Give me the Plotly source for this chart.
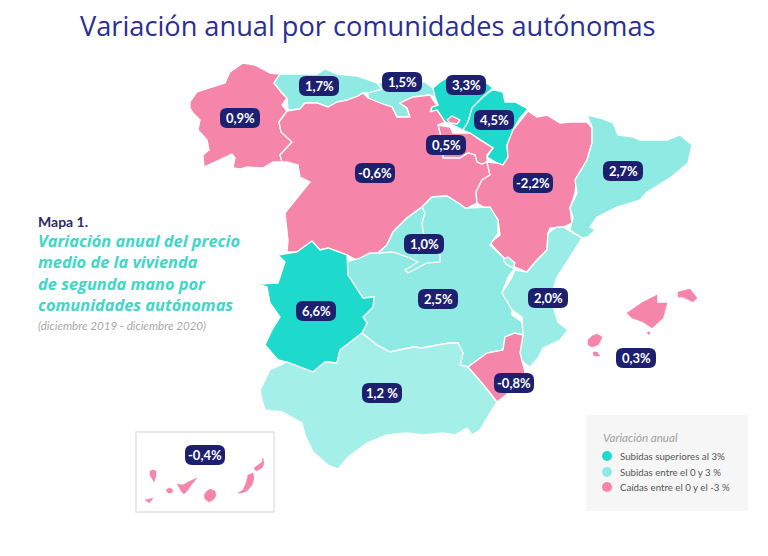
import plotly.graph_objects as go

# region names, value labels and where the label sits (outlines, in px)
regions = ["Galicia", "Asturias", "Cantabria", "País Vasco", "Navarra", "La Rioja", "Castilla y León",
           "Aragón", "Cataluña", "Castilla-La Mancha", "Madrid", "Extremadura", "Andalucía",
           "C. Valenciana", "Murcia", "Baleares", "Canarias"]
values = [0.9, 1.7, 1.5, 3.3, 4.5, 0.5, -0.6, -2.2, 2.7, 2.5, 1.0, 6.6, 1.2, 2.0, -0.8, 0.3, -0.4]
labels = ["0,9%", "1,7%", "1,5%", "3,3%", "4,5%", "0,5%", "-0,6%", "-2,2%", "2,7%", "2,5%", "1,0%",
          "6,6%", "1,2 %", "2,0%", "-0,8%", "0,3%", "-0,4%"]
label_x = [240, 319, 402, 466, 494, 446, 375, 533, 623, 438, 424, 316, 382, 548, 514, 636, 205]
label_y = [118, 86, 82, 85, 120, 145, 173, 183, 171, 299, 244, 311, 393, 298, 383, 358, 455]

galicia = [(190, 102), (197, 92), (225, 83), (230, 72), (243, 63), (255, 65), (270, 73), (280, 74), (274, 83),
           (282, 93), (287, 98), (282, 105), (287, 111), (279, 122), (281, 132), (292, 142), (280, 155), (282, 162),
           (273, 162), (263, 168), (247, 167), (240, 169), (233, 168), (235, 158), (232, 154), (204, 167), (203, 155),
           (209, 150), (207, 140), (198, 130), (200, 120), (193, 113), (190, 108)]
asturias = [(280, 74), (317, 74), (325, 69), (337, 74), (357, 76), (377, 83), (382, 89), (368, 93), (363, 93),
            (358, 96), (347, 100), (337, 102), (328, 107), (317, 103), (305, 103), (300, 109), (288, 110), (287, 98),
            (282, 93), (274, 83)]
cantabria = [(378, 83), (400, 80), (425, 82), (433, 88), (435, 97), (430, 95), (413, 97), (400, 103), (407, 108),
             (410, 117), (397, 117), (392, 107), (380, 103), (368, 98), (368, 93), (382, 89)]
pais_vasco = [(433, 88), (440, 82), (447, 78), (480, 78), (493, 88), (483, 97), (472, 108), (468, 122), (463, 130),
              (453, 125), (445, 122), (437, 110), (430, 112), (432, 107), (438, 105), (435, 97)]
trevino = [(447, 120), (452, 116), (460, 120), (457, 124), (450, 123)]
navarra = [(495, 90), (503, 92), (505, 102), (515, 102), (528, 109), (520, 118), (513, 130), (507, 145), (508, 157),
           (503, 165), (497, 163), (487, 157), (493, 148), (480, 140), (470, 133), (463, 130), (468, 122), (472, 108),
           (483, 97), (492, 90)]
rioja = [(438, 125), (450, 127), (453, 133), (470, 133), (480, 140), (493, 148), (487, 155), (487, 162), (482, 164),
         (477, 162), (475, 155), (468, 153), (460, 158), (443, 158), (443, 153), (440, 133)]
castilla_leon = [(287, 111), (300, 109), (305, 103), (317, 103), (328, 107), (337, 102), (347, 100), (358, 96),
                 (363, 93), (368, 98), (380, 103), (392, 107), (397, 117), (410, 117), (407, 108), (400, 103),
                 (413, 97), (430, 95), (435, 103), (438, 105), (432, 107), (430, 112), (437, 110), (445, 122),
                 (438, 125), (440, 133), (443, 153), (443, 158), (460, 158), (468, 153), (475, 155), (477, 162),
                 (482, 164), (487, 162), (490, 175), (482, 180), (476, 192), (477, 203), (463, 210), (457, 203),
                 (447, 196), (432, 197), (422, 207), (407, 218), (393, 232), (387, 245), (378, 253), (363, 258),
                 (357, 260), (347, 255), (328, 248), (320, 250), (312, 241), (297, 252), (287, 252), (288, 240),
                 (285, 213), (293, 203), (310, 182), (300, 177), (298, 165), (287, 162), (282, 162), (280, 155),
                 (292, 142), (281, 132), (279, 122)]
aragon = [(528, 111), (537, 117), (547, 115), (560, 123), (570, 122), (587, 122), (592, 128), (592, 143), (587, 160),
          (577, 177), (575, 193), (570, 208), (572, 223), (563, 227), (550, 228), (548, 233), (547, 250), (537, 260),
          (527, 272), (515, 267), (503, 257), (490, 243), (500, 235), (498, 220), (488, 210), (477, 203), (476, 192),
          (482, 180), (490, 175), (487, 162), (497, 163), (503, 165), (508, 157), (507, 145), (513, 130)]
cataluna = [(587, 115), (600, 118), (613, 123), (618, 135), (633, 137), (640, 140), (657, 140), (667, 140), (680, 135),
            (692, 145), (688, 163), (670, 178), (647, 192), (640, 200), (617, 207), (597, 217), (590, 227), (595, 230),
            (588, 237), (582, 238), (570, 230), (573, 217), (570, 208), (577, 193), (575, 180), (587, 160), (592, 143),
            (592, 127)]
castilla_mancha = [(422, 207), (432, 197), (447, 196), (460, 204), (465, 208), (480, 207), (490, 207), (498, 220),
                   (498, 233), (490, 245), (503, 257), (508, 265), (515, 268), (508, 277), (502, 293), (512, 307),
                   (512, 315), (522, 322), (523, 335), (515, 333), (505, 337), (503, 350), (487, 353), (468, 367),
                   (460, 365), (463, 353), (458, 343), (450, 343), (437, 345), (422, 348), (413, 347), (390, 352),
                   (377, 345), (362, 333), (367, 323), (363, 317), (373, 307), (374, 297), (363, 298), (353, 283),
                   (348, 275), (347, 262), (360, 258), (370, 253), (378, 253), (387, 245), (393, 232), (407, 218)]
madrid = [(422, 207), (407, 218), (393, 232), (387, 245), (378, 253), (393, 252), (410, 258), (418, 262), (405, 270),
          (408, 273), (427, 263), (440, 262), (440, 255), (430, 245), (423, 232), (422, 223), (425, 213)]
extremadura = [(278, 255), (297, 252), (312, 241), (320, 250), (328, 248), (347, 255), (348, 275), (353, 283),
               (363, 298), (374, 297), (373, 307), (363, 317), (367, 323), (362, 333), (340, 350), (337, 363),
               (325, 362), (313, 372), (300, 367), (287, 362), (278, 360), (265, 345), (272, 330), (280, 317),
               (270, 303), (267, 287), (258, 284), (278, 283), (285, 262)]
andalucia = [(260, 390), (270, 370), (287, 362), (300, 367), (313, 372), (325, 362), (337, 363), (340, 350), (362, 333),
             (377, 345), (390, 352), (413, 347), (422, 348), (437, 345), (450, 343), (458, 343), (463, 353), (460, 365),
             (468, 367), (482, 383), (490, 393), (497, 402), (490, 413), (480, 430), (472, 435), (467, 428), (455, 435),
             (443, 433), (423, 435), (407, 433), (387, 435), (367, 443), (348, 457), (338, 469), (328, 465), (313, 452),
             (305, 435), (302, 423), (282, 412), (265, 410), (262, 400)]
valencia = [(548, 233), (557, 227), (563, 227), (582, 238), (570, 257), (557, 277), (552, 293), (552, 303), (558, 322),
            (568, 330), (560, 340), (543, 348), (538, 358), (530, 367), (523, 362), (518, 355), (522, 340), (523, 335),
            (522, 317), (512, 310), (502, 293), (512, 277), (515, 270), (527, 272), (537, 260), (547, 250)]
ademuz = [(503, 260), (508, 257), (515, 263), (513, 268), (506, 264)]
murcia = [(468, 367), (487, 353), (503, 350), (505, 337), (515, 333), (523, 335), (520, 353), (525, 372), (515, 388),
          (503, 397), (497, 402), (490, 393), (482, 383)]
mallorca = [(627, 313), (643, 302), (657, 295), (657, 303), (667, 303), (663, 318), (652, 328), (643, 322), (632, 318)]
menorca = [(678, 292), (690, 289), (697, 298), (693, 302), (683, 297), (678, 297)]
cabrera = [(647, 332), (650, 332), (649, 335)]
ibiza = [(588, 340), (592, 336), (597, 334), (602, 337), (600, 342), (598, 345), (592, 347), (588, 345)]
formentera = [(593, 352), (597, 352), (600, 356), (594, 356)]
la_palma = [(150, 471), (153, 470), (156, 471), (156, 476), (154, 482), (152, 479), (150, 475)]
el_hierro = [(145, 500), (149, 499), (153, 498), (151, 501), (149, 503), (147, 501)]
la_gomera = [(166, 490), (169, 488), (172, 489), (173, 491), (171, 493), (168, 493)]
tenerife = [(177, 484), (183, 485), (188, 482), (197, 478), (192, 484), (188, 490), (184, 494), (181, 491), (179, 487)]
gran_canaria = [(204, 495), (207, 491), (210, 489), (215, 491), (216, 496), (213, 500), (209, 502), (205, 499)]
fuerteventura = [(238, 493), (243, 490), (246, 483), (248, 475), (253, 473), (254, 478), (252, 485), (247, 491), (242, 493)]
lanzarote = [(254, 468), (258, 465), (262, 462), (263, 458), (264, 464), (262, 468), (256, 471)]

legend_names = ["Subidas superiores al 3%", "Subidas entre el 0 y 3 %", "Caídas entre el 0 y el -3 %"]

PINK = "#F585A9"
TEAL = "#1EDACC"
MINT = "#8EEAE2"
NAVY = "#1D1F6F"

outlines = {
    "Galicia": [galicia], "Asturias": [asturias], "Cantabria": [cantabria], "País Vasco": [pais_vasco],
    "Navarra": [navarra], "La Rioja": [rioja, trevino], "Castilla y León": [castilla_leon], "Aragón": [aragon],
    "Cataluña": [cataluna], "Castilla-La Mancha": [castilla_mancha], "Madrid": [madrid],
    "Extremadura": [extremadura], "Andalucía": [andalucia], "C. Valenciana": [valencia, ademuz], "Murcia": [murcia],
    "Baleares": [mallorca, menorca, cabrera, ibiza, formentera],
    "Canarias": [la_palma, el_hierro, la_gomera, tenerife, gran_canaria, fuerteventura, lanzarote],
}
# some regions are a slightly different shade in the original
shades = {"Andalucía": "#A5EFE9", "C. Valenciana": "#9AEDE6", "Baleares": PINK, "Canarias": PINK}


def region_color(name, value):
    if name in shades:
        return shades[name]
    if value > 3:
        return TEAL
    if value > 0 and name != "Galicia" and name != "La Rioja":
        return MINT
    return PINK


def rounded_box(x0, y0, x1, y1, r):
    return (f"M {x0 + r} {y0} L {x1 - r} {y0} Q {x1} {y0} {x1} {y0 + r} L {x1} {y1 - r} Q {x1} {y1} {x1 - r} {y1} "
            f"L {x0 + r} {y1} Q {x0} {y1} {x0} {y1 - r} L {x0} {y0 + r} Q {x0} {y0} {x0 + r} {y0} Z")


fig = go.Figure()

for name, value in zip(regions, values):
    for part in outlines[name]:
        xs = [p[0] for p in part] + [part[0][0]]
        ys = [p[1] for p in part] + [part[0][1]]
        islands = name in ("Baleares", "Canarias")
        fig.add_trace(go.Scatter(x=xs, y=ys, mode="lines", fill="toself", fillcolor=region_color(name, value),
                                 line=dict(color=region_color(name, value) if islands else "white",
                                           width=0.5 if islands else 1.3),
                                 hoverinfo="text", text=name, showlegend=False))

# legend dots
fig.add_trace(go.Scatter(x=[607, 607, 607], y=[456, 472, 487], mode="markers",
                         marker=dict(size=10, color=[TEAL, MINT, PINK]), hoverinfo="skip", showlegend=False))

shapes = [
    dict(type="rect", x0=136, y0=432, x1=274, y1=512, line=dict(color="#E4E4E4", width=1.5), layer="below"),
    dict(type="rect", x0=586, y0=415, x1=748, y1=511, fillcolor="#F6F6F6", line=dict(width=0), layer="below"),
]
for x, y in zip(label_x, label_y):
    shapes.append(dict(type="path", path=rounded_box(x - 20, y - 10, x + 20, y + 10, 7), fillcolor=NAVY,
                       line=dict(width=0), layer="above"))

annotations = []
for x, y, t in zip(label_x, label_y, labels):
    annotations.append(dict(x=x, y=y, text=f"<b>{t}</b>", showarrow=False,
                            font=dict(family="Lato", size=13, color="white")))


def add_text(x, y, text, size, color, family="Lato", anchor="left"):
    annotations.append(dict(x=x, y=y, text=text, showarrow=False, xanchor=anchor, yanchor="middle", align="left",
                            font=dict(family=family, size=size, color=color)))


add_text(368, 25, "Variación anual por comunidades autónomas", 27.2, "#2B2F95", "Open Sans", "center")
add_text(36, 221, "<b>Mapa 1.</b>", 14, "#2C2A66")
subtitle_lines = ["Variación anual del precio", "medio de la vivienda", "de segunda mano por", "comunidades autónomas"]
add_text(36, 272.5, "<br>".join(f"<b><i>{line}</i></b>" for line in subtitle_lines), 16.4, "#41D6C8", "Open Sans")
add_text(36, 325, "<i>(diciembre 2019 - diciembre 2020)</i>", 11.6, "#A8A8A8")
add_text(601, 437, "<i>Variación anual</i>", 11.6, "#A0A0A0")
for y, name in zip([456, 472, 487], legend_names):
    add_text(618, y, name, 9.7, "#555555")

fig.update_layout(
    width=768, height=556, margin=dict(l=0, r=0, t=0, b=0), paper_bgcolor="white", plot_bgcolor="white",
    xaxis=dict(range=[0, 768], visible=False, fixedrange=True),
    yaxis=dict(range=[556, 0], visible=False, fixedrange=True),
    shapes=shapes, annotations=annotations, showlegend=False,
)

fig.write_html("out.html", config={"displayModeBar": False}, post_script="document.body.style.margin='0';")
